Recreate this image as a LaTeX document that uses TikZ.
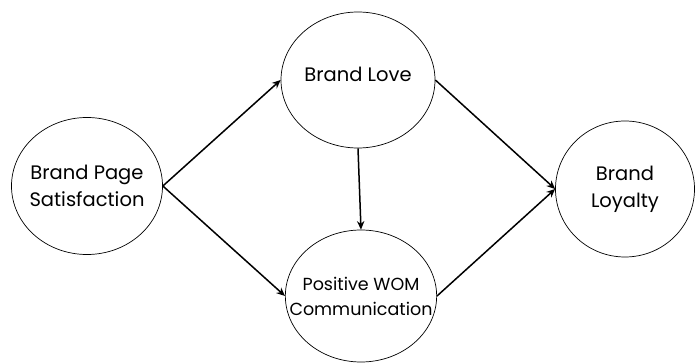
\documentclass[tikz,border=0pt]{standalone}
\usepackage{fontspec}
\setmainfont{Poppins}
\usepackage{tikz}
\usetikzlibrary{arrows.meta,shapes.geometric}

\begin{document}
\begin{tikzpicture}[
x=1pt, y=1pt,
construct/.style={draw, ellipse, line width=0.7pt, align=center, inner sep=-18pt, font=\fontsize{19.5}{27}\selectfont},
arr/.style={-{Stealth[length=3mm, width=2.6mm]}, line width=1.5pt}
]
\useasboundingbox (0,0) rectangle (696,-363);
\node[construct, minimum width=151, minimum height=137] (bps) at (87,-186) {Brand Page\\Satisfaction};
\node[construct, minimum width=154, minimum height=136, text depth=11pt] (love) at (358,-80) {Brand Love};
\node[construct, minimum width=151, minimum height=132, font=\fontsize{17.5}{25}\selectfont] (wom) at (361,-296) {Positive WOM\\Communication};
\node[construct, minimum width=139, minimum height=136] (loyal) at (625,-189) {Brand\\Loyalty};
\draw[arr] (bps.east) -- (love.west);
\draw[arr] (bps.east) -- (wom.west);
\draw[arr] (love.south) -- (wom.north);
\draw[arr] (love.east) -- (loyal.west);
\draw[arr] (wom.east) -- (loyal.west);
\end{tikzpicture}
\end{document}
